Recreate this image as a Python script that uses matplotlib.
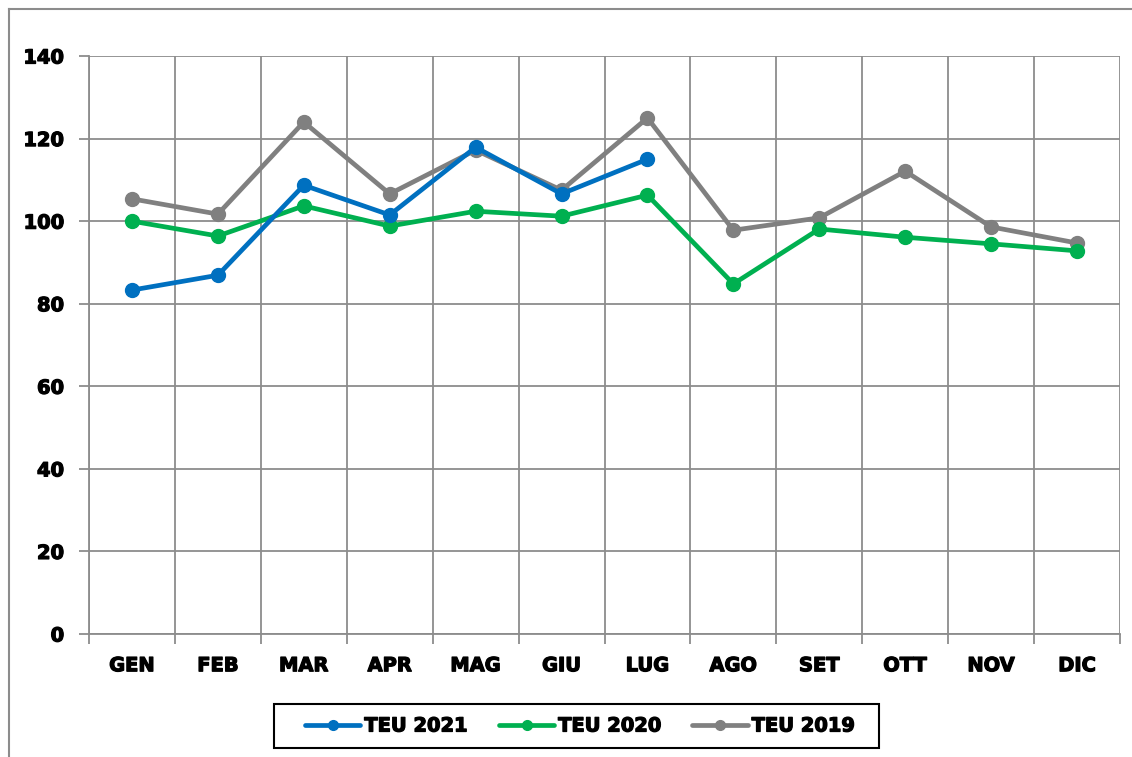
import matplotlib.pyplot as plt
import matplotlib.patheffects as pe
import numpy as np
from matplotlib.lines import Line2D
from matplotlib.patches import Rectangle

mesi = ['GEN', 'FEB', 'MAR', 'APR', 'MAG', 'GIU', 'LUG', 'AGO', 'SET', 'OTT', 'NOV', 'DIC']
teu_2021 = [83.3, 86.9, 108.7, 101.5, 117.9, 106.6, 115.0]
teu_2020 = [100.0, 96.4, 103.7, 98.8, 102.4, 101.2, 106.3, 84.8, 98.1, 96.1, 94.5, 92.8]
teu_2019 = [105.4, 101.7, 124.0, 106.6, 117.2, 107.5, 125.0, 97.8, 100.8, 112.1, 98.6, 94.7]

plt.rcParams['font.family'] = ['DejaVu Sans']
plt.rcParams['font.weight'] = 'bold'

W, H = 1132, 757
fig = plt.figure(figsize=(W / 100, H / 100), dpi=100)
ax = fig.add_axes([89 / W, 1 - 634 / H, (1120 - 89) / W, (634 - 56) / H])

# bordo esterno del grafico (solo sinistra e alto)
fig.add_artist(Line2D([9 / W, 9 / W], [0, 1 - 9 / H], transform=fig.transFigure,
                      color='#8c8c8c', lw=1.5))
fig.add_artist(Line2D([9 / W, 1], [1 - 9 / H, 1 - 9 / H], transform=fig.transFigure,
                      color='#8c8c8c', lw=1.5))

x = np.arange(len(mesi))
serie = [('TEU 2021', teu_2021, '#0070C0'),
         ('TEU 2020', teu_2020, '#00B050'),
         ('TEU 2019', teu_2019, '#808080')]
for nome, valori, colore in serie[::-1]:
    ax.plot(x[:len(valori)], valori, color=colore, lw=3.4, marker='o', ms=10,
            label=nome, zorder=3, solid_capstyle='round')

ax.set_xlim(-0.5, len(mesi) - 0.5)
ax.set_ylim(0, 140)
ax.set_yticks(range(0, 141, 20))
ax.set_xticks(x, mesi)
ax.set_xticks(np.arange(-0.5, len(mesi)), minor=True)

ax.grid(True, axis='y', color='#8c8c8c', lw=1.3)
ax.grid(True, axis='x', which='minor', color='#8c8c8c', lw=1.3)
ax.tick_params(axis='x', which='major', length=0, pad=16, labelsize=14)
ax.tick_params(axis='x', which='minor', length=7, color='#8c8c8c', width=1.3)
ax.tick_params(axis='y', length=7, color='#8c8c8c', width=1.3, pad=11, labelsize=14)
for s in ['top', 'right']:
    ax.spines[s].set_visible(False)
for s in ['left', 'bottom']:
    ax.spines[s].set_color('#8c8c8c')
    ax.spines[s].set_linewidth(1.3)
ax.set_axisbelow(True)

# testo più marcato
grassetto = [pe.withStroke(linewidth=0.9, foreground='black')]
for t in ax.get_xticklabels() + ax.get_yticklabels():
    t.set_path_effects(grassetto)

# legenda senza cornice, con riquadro nero disegnato a parte
handles, labels = ax.get_legend_handles_labels()
leg = fig.legend(handles[::-1], labels[::-1], loc='center', ncols=3,
                 bbox_to_anchor=(580 / W, 1 - 726 / H), frameon=False,
                 fontsize=14, handlelength=2.85, handletextpad=0.2,
                 columnspacing=1.6, markerscale=0.7)
for t in leg.get_texts():
    t.set_path_effects(grassetto)
fig.add_artist(Rectangle((274 / W, 1 - 748 / H), (879 - 274) / W, 44 / H,
                         transform=fig.transFigure, fill=False,
                         edgecolor='black', lw=1.5))

fig.savefig('out.png', dpi=100)
